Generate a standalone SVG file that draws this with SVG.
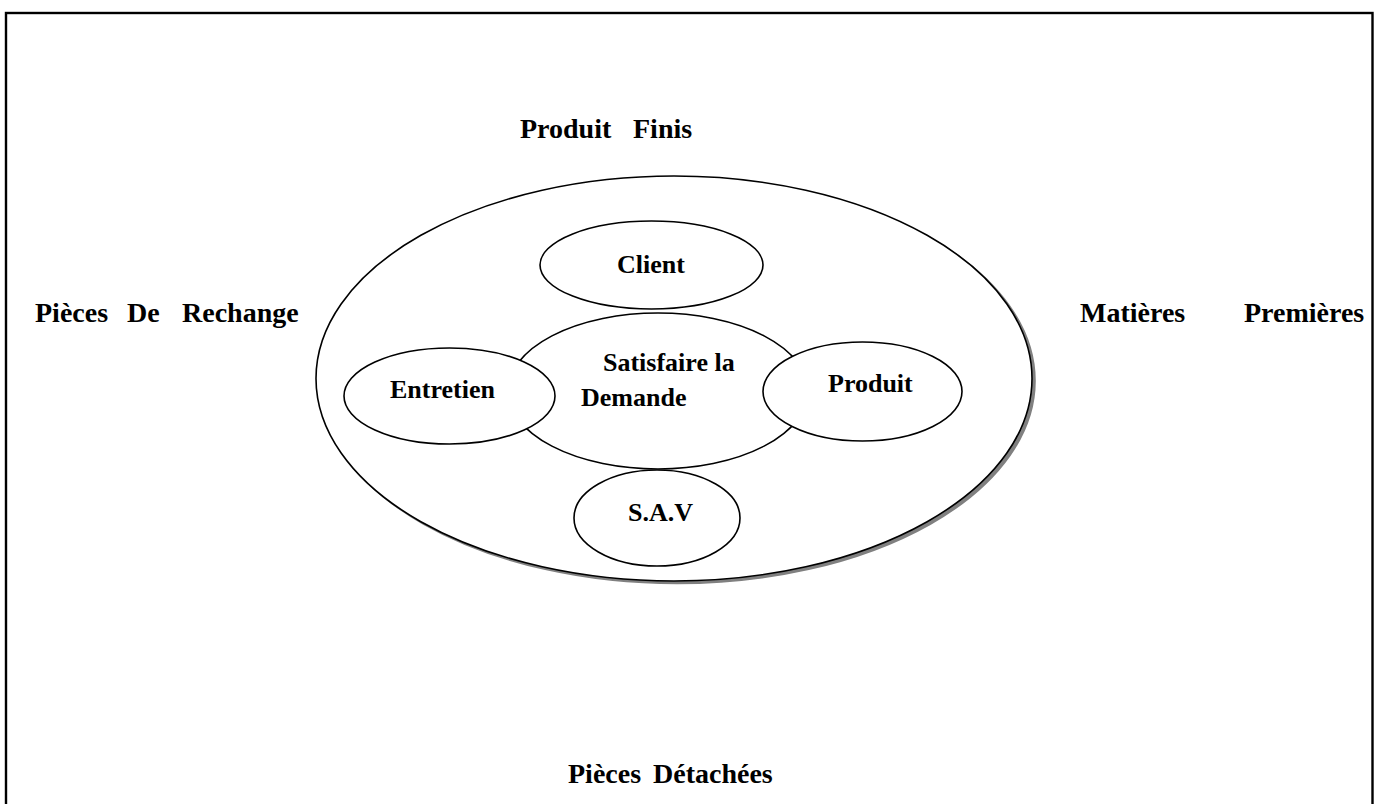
<svg xmlns="http://www.w3.org/2000/svg" width="1375" height="804" viewBox="0 0 1375 804">
  <style>
    .node { fill: #ffffff; stroke: #000000; stroke-width: 1.6; }
    .lbl { font-family: "Liberation Serif", "Times New Roman", serif; font-weight: bold; font-size: 26px; fill: #000000; }
    .out { font-family: "Liberation Serif", "Times New Roman", serif; font-weight: bold; font-size: 28px; fill: #000000; }
  </style>
  <rect x="0" y="0" width="1375" height="804" fill="#ffffff"/>
  <rect id="frame" x="6" y="13" width="1366.5" height="800" fill="none" stroke="#000000" stroke-width="2.4"/>

  <g id="outer-labels">
    <text class="out" x="520" y="138">Produit</text>
    <text class="out" x="633" y="138">Finis</text>
    <text class="out" x="35" y="322">Pièces</text>
    <text class="out" x="127" y="322">De</text>
    <text class="out" x="182" y="322">Rechange</text>
    <text class="out" x="1080" y="322">Matières</text>
    <text class="out" x="1244" y="322">Premières</text>
    <text class="out" x="568" y="783">Pièces</text>
    <text class="out" x="653" y="783">Détachées</text>
  </g>

  <g id="environment">
    <ellipse cx="677" cy="381" rx="358" ry="202.5" fill="#808080" stroke="#808080" stroke-width="1.6"/>
    <ellipse class="node" cx="674" cy="378.5" rx="358" ry="202.5"/>
  </g>

  <g id="satisfaire">
    <ellipse class="node" cx="658" cy="391" rx="150" ry="78"/>
    <text class="lbl" x="603" y="371">Satisfaire la</text>
    <text class="lbl" x="581" y="406">Demande</text>
  </g>

  <g id="client">
    <ellipse class="node" cx="651.5" cy="265" rx="111.5" ry="44"/>
    <text class="lbl" x="617" y="273">Client</text>
  </g>

  <g id="sav">
    <ellipse class="node" cx="657" cy="518" rx="83" ry="48"/>
    <text class="lbl" x="628" y="521">S.A.V</text>
  </g>

  <g id="entretien">
    <ellipse class="node" cx="449.5" cy="396" rx="105.5" ry="48"/>
    <text class="lbl" x="390" y="398">Entretien</text>
  </g>

  <g id="produit">
    <ellipse class="node" cx="862.5" cy="391.5" rx="99.5" ry="49.5"/>
    <text class="lbl" x="828" y="392">Produit</text>
  </g>

  <g id="connectors"/>
</svg>
